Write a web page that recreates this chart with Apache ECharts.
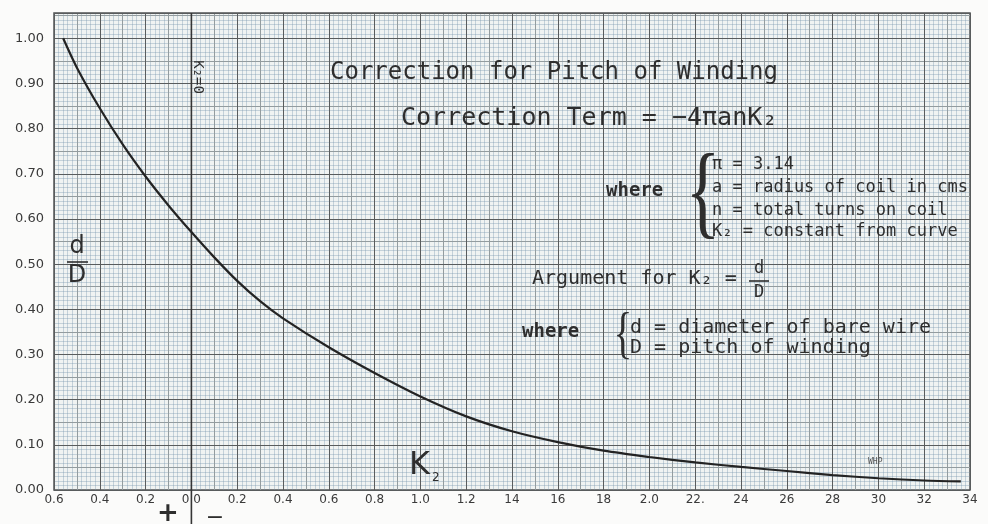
<!DOCTYPE html>
<html lang="en">
<head>
  <meta charset="UTF-8">
  <title>Correction for Pitch of Winding</title>
  <script src="https://cdn.jsdelivr.net/npm/echarts@6/dist/echarts.min.js"></script>
  <style>
    html, body { margin: 0; padding: 0; background: #fbfbfa; }
  </style>
</head>
<body>
  <div id="chart" style="width: 988px;height: 524px;"></div>
  <script>
    const myChart = echarts.init(document.getElementById('chart'))

    // K2 in hundredths (positive to the left of the K2=0 line) and d/D
    const k2Values = [5.6, 5, 4, 3, 2, 1, 0, -1, -2, -3, -4, -6, -8, -10, -12, -14, -16, -18, -20, -22, -24, -26, -28, -30, -32, -33.6]
    const dOverD = [1.00, 0.935, 0.845, 0.765, 0.694, 0.630, 0.571, 0.515, 0.463, 0.418, 0.380, 0.316, 0.259, 0.207, 0.163, 0.130, 0.106, 0.087, 0.073, 0.061, 0.051, 0.042, 0.033, 0.026, 0.021, 0.019]

    // tick labels as lettered on the sheet, left to right / bottom to top
    const xTickLabels = ['0.6', '0.4', '0.2', '0 0', '0.2', '0.4', '0.6', '0.8', '1.0', '1.2', '14', '16', '18', '2.0', '22.', '24', '26', '28', '30', '32', '34']
    const yTickLabels = ['0.00', '0.10', '0.20', '0.30', '0.40', '0.50', '0.60', '0.70', '0.80', '0.90', '1.00']

    // the K2 = 0 line
    const zeroLine = [[0, 1.056]]

    const X_MIN = -34, X_MAX = 6, Y_MAX = 1.056
    const ink = '#2e2e2e'
    const hand = 'DejaVu Sans Mono'

    // graph paper: fine, medium and heavy rulings on separate axes
    function paperX(interval, color, z, withLabels) {
      return {
        type: 'value', position: 'bottom', min: X_MIN, max: X_MAX, interval, inverse: true, z,
        axisLine: { show: false }, axisTick: { show: false },
        axisLabel: withLabels ? {
          color: '#3a3a3a', fontSize: 12, margin: 4, fontFamily: 'DejaVu Sans',
          formatter: v => xTickLabels[Math.round((X_MAX - v) / 2)] || ''
        } : { show: false },
        splitLine: { show: true, lineStyle: { color, width: 1 } }
      }
    }
    function paperY(interval, color, z, withLabels) {
      return {
        type: 'value', position: 'left', min: 0, max: Y_MAX, interval, z,
        axisLine: { show: false }, axisTick: { show: false },
        axisLabel: withLabels ? {
          color: '#3a3a3a', fontSize: 13, margin: 10, fontFamily: 'DejaVu Sans',
          formatter: v => {
            const i = Math.round(v * 10)
            return Math.abs(v * 10 - i) < 1e-6 ? (yTickLabels[i] || '') : ''
          }
        } : { show: false },
        splitLine: { show: true, lineStyle: { color, width: 1 } }
      }
    }

    const text = (x, y, str, font, extra) => ({
      type: 'text', x, y, z: 20,
      style: Object.assign({ text: str, font, fill: ink, textVerticalAlign: 'middle' }, extra || {})
    })
    const brace = (x, y, size) => ({
      type: 'text', x, y, z: 20, scaleX: 0.7,
      style: { text: '{', font: `${size}px "Liberation Serif"`, fill: ink, textAlign: 'center', textVerticalAlign: 'middle' }
    })
    const bar = (x1, x2, y) => ({
      type: 'line', z: 20, shape: { x1, y1: y, x2, y2: y }, style: { stroke: ink, lineWidth: 1.6 }
    })

    const option = {
      backgroundColor: '#fbfbfa',
      animation: false,
      grid: {
        left: 54, right: 18, top: 13, bottom: 34,
        show: true, backgroundColor: '#f0f3f2', borderColor: '#505354', borderWidth: 1.5
      },
      xAxis: [
        paperX(0.2, 'rgba(120,150,172,0.36)', 1, false),
        paperX(1, '#939c9f', 2, false),
        paperX(2, '#595c5d', 3, true)
      ],
      yAxis: [
        paperY(0.01, 'rgba(120,150,172,0.36)', 1, false),
        paperY(0.05, '#939c9f', 2, false),
        paperY(0.1, '#595c5d', 3, true)
      ],
      series: [
        {
          type: 'line',
          xAxisIndex: 2, yAxisIndex: 2, z: 10,
          smooth: 0.3,
          showSymbol: false,
          lineStyle: { color: '#232323', width: 2.2 },
          data: k2Values.map((k, i) => [k, dOverD[i]])
        },
        {
          type: 'custom',
          xAxisIndex: 2, yAxisIndex: 2, z: 9, clip: false,
          data: zeroLine,
          renderItem(params, api) {
            const p = api.coord([api.value(0), api.value(1)])
            return {
              type: 'line',
              shape: { x1: p[0], y1: p[1], x2: p[0], y2: api.getHeight() },
              style: { stroke: '#353535', lineWidth: 1.6 }
            }
          }
        }
      ],
      graphic: [
        text(330, 73, 'Correction for Pitch of Winding', `24px "${hand}"`),
        text(401, 118, 'Correction Term = −4πanK₂', `25px "${hand}"`),
        text(606, 191, 'where', `bold 19px "${hand}"`),
        brace(703, 198, 104),
        text(712, 165, 'π = 3.14', `17px "${hand}"`),
        text(712, 188, 'a = radius of coil in cms', `17px "${hand}"`),
        text(712, 211, 'n = total turns on coil', `17px "${hand}"`),
        text(712, 232, 'K₂ = constant from curve', `17px "${hand}"`),
        text(532, 279, 'Argument for K₂ =', `20px "${hand}"`),
        text(759, 269, 'd', `17px "${hand}"`, { textAlign: 'center' }),
        bar(749, 769, 281),
        text(759, 293, 'D', `17px "${hand}"`, { textAlign: 'center' }),
        text(522, 332, 'where', `bold 19px "${hand}"`),
        brace(623, 337, 56),
        text(630, 328, 'd = diameter of bare wire', `20px "${hand}"`),
        text(630, 348, 'D = pitch of winding', `20px "${hand}"`),
        text(77, 247, 'd', '24px "DejaVu Sans"', { textAlign: 'center' }),
        bar(67, 88, 262),
        text(77, 276, 'D', '24px "DejaVu Sans"', { textAlign: 'center' }),
        {
          type: 'text', x: 198, y: 77, z: 20, rotation: -Math.PI / 2,
          style: { text: 'K₂=0', font: `14px "${hand}"`, fill: ink, textAlign: 'center', textVerticalAlign: 'middle' }
        },
        text(409, 466, 'K', '32px "DejaVu Sans"'),
        text(432, 478, '2', '12px "DejaVu Sans"'),
        text(868, 462, 'WHP', `8px "${hand}"`, { fill: '#555' }),
        text(168, 514, '+', 'bold 26px "DejaVu Sans"', { textAlign: 'center' }),
        text(215, 518, '−', '22px "DejaVu Sans"', { textAlign: 'center' })
      ]
    }

    myChart.setOption(option)
  </script>
</body>
</html>
